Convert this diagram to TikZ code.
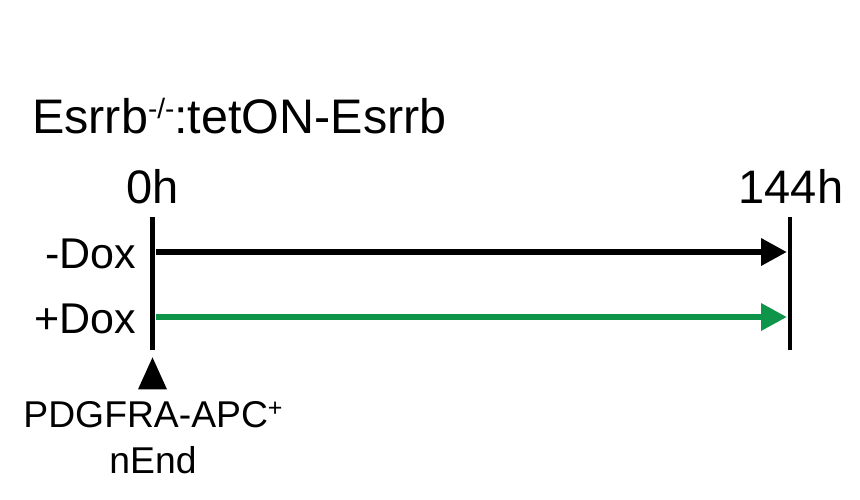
\documentclass[tikz,border=0pt]{standalone}
\usepackage{fontspec}
\setmainfont{Liberation Sans}
\usetikzlibrary{shapes.geometric, arrows.meta, positioning}
\definecolor{doxgreen}{HTML}{0E9549}
\newcommand{\raisedtext}[3]{\raisebox{#2}{\fontsize{#1}{#1}\selectfont #3}}
\begin{document}
\begin{tikzpicture}[x=1pt, y=-1pt,
    title/.style={inner sep=0pt, font=\fontsize{48.5}{52}\selectfont},
    lbl/.style={inner sep=0pt, font=\fontsize{47}{50}\selectfont},
    dox/.style={inner sep=0pt, font=\fontsize{43}{50}\selectfont},
    note/.style={inner sep=0pt, font=\fontsize{37.3}{40}\selectfont},
    bar/.style={line width=4.5pt, black},
    conn/.style={-{Triangle[length=26pt, width=26pt]}, line width=6.5pt}]
    \useasboundingbox (0,0) rectangle (860,499);

    % Title
    \node (head) [title, anchor=base west] at (32,133) {Esrrb\raisedtext{28}{15pt}{-/-}:tetON-Esrrb};

    % Time points
    \coordinate (starttop) at (152.5,217);
    \coordinate (startbot) at (152.5,350);
    \coordinate (endtop) at (790,217);
    \coordinate (endbot) at (790,350);
    \draw[bar] (starttop) -- (startbot);
    \draw[bar] (endtop) -- (endbot);
    \node (zero) [lbl, anchor=base] at (152.5,203) {0h};
    \node (late) [lbl, anchor=base] at (791,203) {144h};

    % Treatments
    \node (minus) [dox, anchor=base east] at (136,268) {-Dox};
    \node (plus) [dox, anchor=base east] at (136,333) {+Dox};
    \coordinate (minusa) at (156,252);
    \coordinate (minusb) at (787,252);
    \coordinate (plusa) at (156,317);
    \coordinate (plusb) at (787,317);
    \draw[conn] (minusa) -- (minusb);
    \draw[conn, doxgreen] (plusa) -- (plusb);

    % Sorting
    \node (mark) [isosceles triangle, isosceles triangle stretches, shape border rotate=90,
      fill=black, inner sep=0pt, minimum width=29pt, minimum height=32pt] at (152.5,380) {};
    \node (sort) [note, anchor=base] at (153,427) {PDGFRA-APC\raisedtext{25}{11pt}{+}};
    \node (nend) [note, anchor=base, yshift=-46pt] at (sort.base) {nEnd};
\end{tikzpicture}
\end{document}
